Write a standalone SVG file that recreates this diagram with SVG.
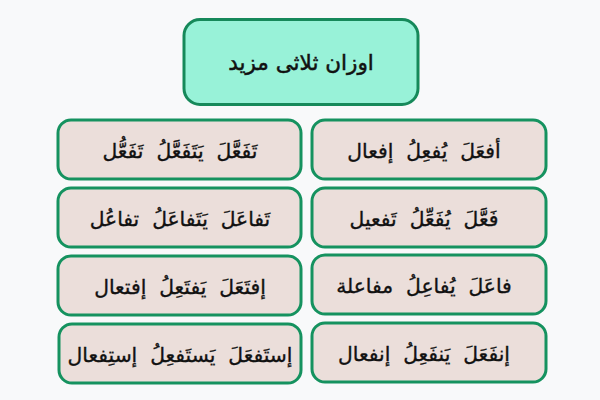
<svg xmlns="http://www.w3.org/2000/svg" width="600" height="400" viewBox="0 0 600 400">
<style>
.bg{fill:#f8f9fa}
.title rect{fill:#98f2d8;stroke:#16895a;stroke-width:3}
.node rect{fill:#ebdeda;stroke:#15925f;stroke-width:3}
text{font-family:"DejaVu Sans",sans-serif;fill:#111;stroke:#111;stroke-width:0.35;text-anchor:middle;direction:rtl;white-space:pre}
.title text{font-size:21.5px;stroke-width:0.5}
.node text{font-size:20.3px}
</style>
<rect class="bg" width="600" height="400"/>
<g id="connectors"/>
<g id="title" class="title">
<rect x="184" y="19.5" width="234" height="85" rx="16"/>
<text x="301" y="70">اوزان ثلاثی مزید</text>
</g>
<g id="n-afala" class="node">
<rect x="312" y="120" width="234" height="59" rx="13"/>
<text x="424" y="158">أفعَلَ  يُفعِلُ  إفعال</text>
</g>
<g id="n-faala" class="node">
<rect x="312" y="188" width="234" height="59" rx="13"/>
<text x="424" y="226">فَعَّلَ  يُفَعِّلُ  تَفعيل</text>
</g>
<g id="n-faala2" class="node">
<rect x="312" y="255" width="234" height="59" rx="13"/>
<text x="424" y="293">فاعَلَ  يُفاعِلُ  مفاعلة</text>
</g>
<g id="n-infaala" class="node">
<rect x="312" y="323" width="234" height="59" rx="13"/>
<text x="424" y="361">إنفَعَلَ  يَنفَعِلُ  إنفعال</text>
</g>
<g id="n-tafaala" class="node">
<rect x="58" y="120" width="243" height="59" rx="13"/>
<text x="180" y="158">تَفَعَّلَ  يَتَفَعَّلُ  تَفَعُّل</text>
</g>
<g id="n-tafaala2" class="node">
<rect x="58" y="188" width="243" height="59" rx="13"/>
<text x="180" y="226">تَفاعَلَ  يَتَفاعَلُ  تفاعُل</text>
</g>
<g id="n-iftaala" class="node">
<rect x="58" y="256" width="243" height="59" rx="13"/>
<text x="180" y="294">إفتَعَلَ  يَفتَعِلُ  إفتعال</text>
</g>
<g id="n-istafala" class="node">
<rect x="59" y="324" width="242" height="59" rx="13"/>
<text x="180" y="362">إستَفعَلَ  يَستَفعِلُ  إستِفعال</text>
</g>
</svg>
